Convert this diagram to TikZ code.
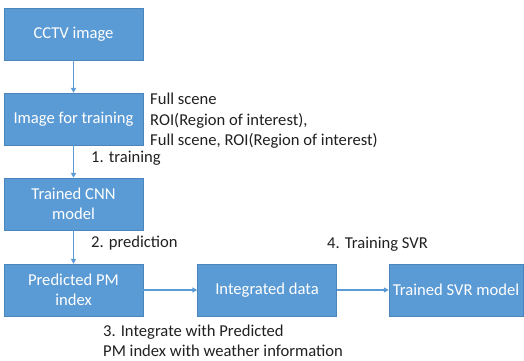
\documentclass[tikz,border=0pt]{standalone}
\usepackage{fontspec}
\setmainfont{Carlito}
\usetikzlibrary{arrows.meta}
\definecolor{boxfill}{HTML}{5B9BD5}
\definecolor{boxedge}{HTML}{4A85BC}
\definecolor{labeltext}{HTML}{202020}
\begin{document}
\begin{tikzpicture}[
        x=1pt, y=-1pt,
        stepbox/.style={
            rectangle,
            draw=boxedge,
            fill=boxfill,
            text=white,
            minimum width=139pt,
            minimum height=52pt,
            align=center,
            inner sep=2pt
        },
        flow/.style={draw=boxfill, line width=1.4pt, -{Triangle[length=5pt,width=5pt]}},
        every node/.style={font=\fontsize{16.6}{20}\selectfont},
        note/.style={text=labeltext, align=left, inner sep=0pt, anchor=west}
    ]

    \useasboundingbox (0,0) rectangle (524,360);

    \node[stepbox] (cctv) at (73.5,34) {CCTV image};
    \node[stepbox] (train) at (73.5,119) {Image for training};
    \node[stepbox] (cnn) at (73.5,204) {Trained CNN\\model};
    \node[stepbox] (pm) at (73.5,290) {Predicted PM\\index};
    \node[stepbox] (integ) at (267,290) {Integrated data};
    \node[stepbox, minimum width=134pt] (svr) at (456,290) {Trained SVR model};

    \draw[flow] (cctv)--(train);
    \draw[flow] (train)--(cnn);
    \draw[flow] (cnn)--(pm);
    \draw[flow] (pm)--(integ);
    \draw[flow] (integ)--(svr);

    \node[note, font=\fontsize{16.6}{20.5}\selectfont] (scenes) at (150,121)
        {Full scene\\ROI(Region of interest),\\Full scene, ROI(Region of interest)};

    \node[note] (step1) at (91,158) {1. training};
    \node[note] (step2) at (91,243) {2. prediction};
    \node[note] (step3) at (103,341)
        {3. Integrate with Predicted\\PM index with weather information};
    \node[note] (step4) at (327,244) {4. Training SVR};

\end{tikzpicture}
\end{document}
